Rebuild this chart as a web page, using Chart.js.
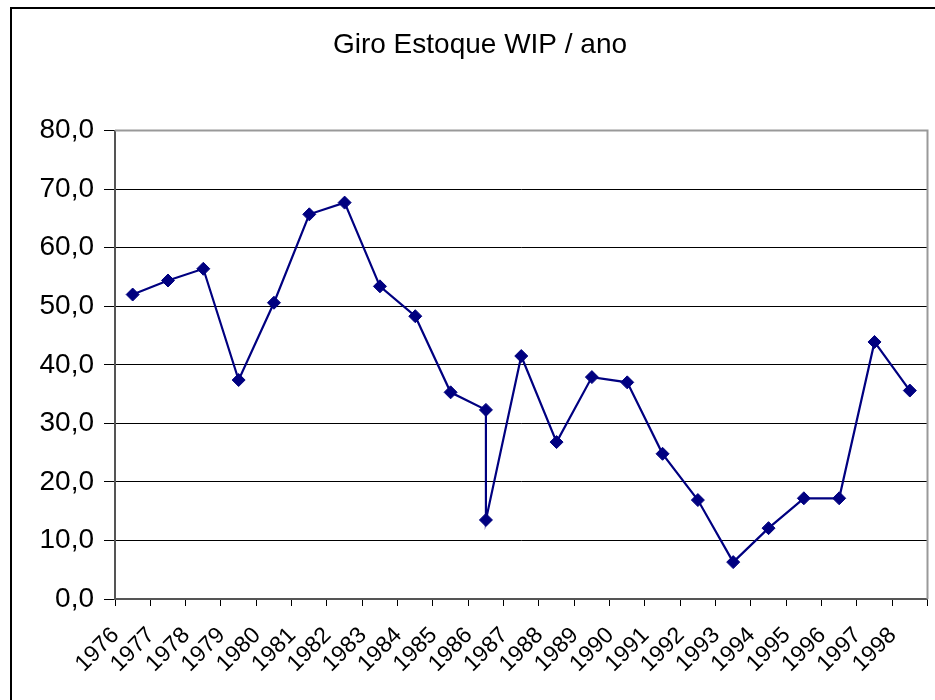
<!DOCTYPE html>
<html lang="pt" dir="ltr">
  <head>
    <meta charset="utf-8">
    <title>Giro Estoque WIP / ano</title>
    <script src="https://cdn.jsdelivr.net/npm/chart.js"></script>
    <style>
      body { margin: 0; background: #fff; }
      #box { position: relative; width: 935px; height: 700px; }
    </style>
  </head>
  <body>
    <div id="box">
      <canvas id="myChart"></canvas>
    </div>
    <script>
      // categories on the x axis
      var years = ["1976", "1977", "1978", "1979", "1980", "1981", "1982", "1983",
        "1984", "1985", "1986", "1987", "1988", "1989", "1990", "1991", "1992",
        "1993", "1994", "1995", "1996", "1997", "1998"];

      // year of every point (1986 has two readings)
      var pointYears = ["1976", "1977", "1978", "1979", "1980", "1981", "1982", "1983",
        "1984", "1985", "1986", "1986", "1987", "1988", "1989", "1990", "1991", "1992",
        "1993", "1994", "1995", "1996", "1997", "1998"];

      var giroValues = [52.0, 54.4, 56.4, 37.4, 50.6, 65.7, 67.7, 53.4,
        48.3, 35.3, 32.3, 13.5, 41.5, 26.8, 37.9, 37.0, 24.8, 16.9,
        6.3, 12.1, 17.2, 17.2, 43.9, 35.6];

      var yTicks = [0, 10, 20, 30, 40, 50, 60, 70, 80];

      var fontFamily = "'Liberation Sans', Arial, sans-serif";

      // frame of the chart and of the plot area
      var framePlugin = {
        id: "frame",
        afterDraw: function (chart) {
          var ctx = chart.ctx;
          var a = chart.chartArea;
          ctx.save();
          ctx.strokeStyle = "#999";
          ctx.lineWidth = 2;
          ctx.beginPath();
          ctx.moveTo(a.left, a.top);
          ctx.lineTo(a.right, a.top);
          ctx.lineTo(a.right, a.bottom);
          ctx.stroke();
          ctx.strokeStyle = "#000";
          ctx.lineWidth = 2;
          ctx.strokeRect(11, 8, 2000, 2000);
          ctx.restore();
        }
      };

      var data = pointYears.map(function (yr, i) {
        return { x: yr, y: giroValues[i] };
      });

      var chart = new Chart("myChart", {
        type: "line",
        data: {
          labels: years,
          datasets: [
            {
              label: "Giro Estoque WIP / ano",
              data: data,
              borderColor: "#000080",
              borderWidth: 2.2,
              backgroundColor: "#000080",
              pointStyle: "rectRot",
              pointRadius: 6.5,
              pointBorderWidth: 1,
              tension: 0
            }
          ]
        },
        options: {
          responsive: true,
          maintainAspectRatio: false,
          animation: false,
          layout: { padding: { left: 32, right: 7, top: 0, bottom: 0 } },
          plugins: {
            legend: { display: false },
            tooltip: { enabled: false },
            title: {
              display: true,
              text: "Giro Estoque WIP / ano",
              color: "#000",
              font: { family: fontFamily, size: 28, weight: "normal" },
              padding: { top: 28, bottom: 69 }
            }
          },
          scales: {
            x: {
              type: "category",
              offset: true,
              grid: {
                offset: true,
                drawOnChartArea: false,
                drawTicks: true,
                tickLength: 7,
                color: "#000",
                lineWidth: 1
              },
              border: { color: "#555", width: 2 },
              ticks: {
                color: "#000",
                font: { family: fontFamily, size: 23 },
                maxRotation: 45,
                minRotation: 45,
                labelOffset: -17,
                padding: 16,
                autoSkip: false
              },
              afterFit: function (scale) {
                scale.height = 101;
                scale.paddingLeft = 0;
                scale.paddingRight = 0;
              }
            },
            y: {
              min: 0,
              max: 80,
              afterBuildTicks: function (scale) {
                scale.ticks = yTicks.map(function (v) { return { value: v }; });
              },
              grid: {
                color: "#000",
                lineWidth: 1,
                tickLength: 11
              },
              border: { color: "#555", width: 2 },
              ticks: {
                color: "#000",
                font: { family: fontFamily, size: 28 },
                padding: 10,
                callback: function (v) {
                  return v.toFixed(1).replace(".", ",");
                }
              },
              afterFit: function (scale) {
                scale.width = 83;
              }
            }
          }
        },
        plugins: [framePlugin]
      });
    </script>
  </body>
</html>
